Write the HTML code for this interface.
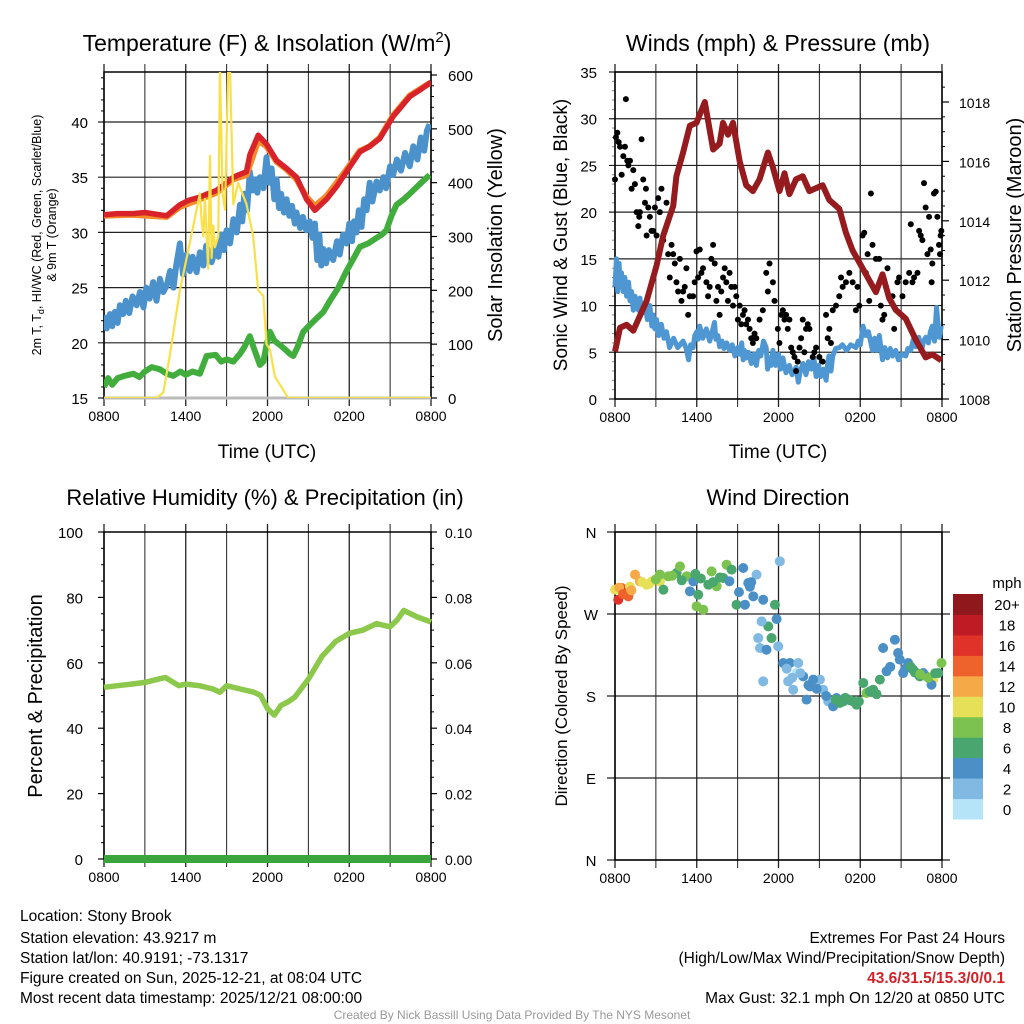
<!DOCTYPE html>
<html><head><meta charset="utf-8"><style>
body{margin:0;background:#fff}
svg{display:block;font-family:"Liberation Sans",sans-serif}
</style></head><body>
<svg id="s" width="1024" height="1024" viewBox="0 0 1024 1024" xmlns="http://www.w3.org/2000/svg"></svg>
<script>
// ---- Temperature panel data (hours since 0800 UTC) ----
const tempT=[0,1,2.15,3,4.6,5.57,6.2,7.04,7.6,8.26,9.0,9.49,10.46,10.7,11.32,11.93,12.67,13.4,14.13,14.87,15.48,16.33,17.1,17.8,18.78,19.5,20.24,21.22,22.44,23.3,24];
const tempV=[31.6,31.7,31.7,31.8,31.5,32.5,32.9,33.2,33.5,33.8,34.5,35.0,35.5,37.0,38.8,38.0,36.5,35.8,35.0,33.0,32.0,33.0,34.2,35.5,37.3,37.8,38.5,40.5,42.3,43.0,43.6];
const nineT=[0,2,4.6,5.57,7.04,8.26,9.49,10.46,11.32,11.93,12.67,13.4,14.13,14.87,15.48,16.33,17.8,18.78,19.5,20.24,21.22,22.44,24];
const nineV=[31.5,31.6,31.4,32.3,33.0,33.6,34.8,35.2,38.3,37.8,36.4,35.7,34.8,33.2,32.4,33.3,35.7,37.4,37.8,38.6,40.6,42.4,43.6];
const dewT=[0,0.2,0.44,0.6,0.8,1.0,1.17,1.4,1.6,1.85,2.1,2.4,2.64,2.9,3.1,3.35,3.6,3.85,4.1,4.35,4.6,4.85,5.1,5.3,5.57,5.8,6.06,6.3,6.5,6.8,7.04,7.3,7.5,7.9,8.26,8.4,8.6,8.8,9.0,9.25,9.5,9.75,9.98,10.15,10.3,10.5,10.7,10.9,11.1,11.25,11.44,11.7,11.93,12.1,12.3,12.5,12.67,12.85,13.0,13.2,13.4,13.6,13.8,14.0,14.13,14.4,14.6,14.85,15.1,15.3,15.48,15.65,15.8,15.95,16.09,16.3,16.5,16.82,17.1,17.3,17.55,17.8,18.0,18.2,18.35,18.53,18.7,18.9,19.1,19.27,19.5,19.7,20.0,20.24,20.5,20.7,21.0,21.22,21.5,21.8,22.1,22.44,22.7,23.0,23.25,23.5,23.7,23.9];
const dewV=[22.5,21.3,22.6,21.5,22.8,21.8,23.4,22.6,23.8,22.7,24.2,23.4,24.6,23.2,25.0,24.0,25.5,23.8,25.8,24.6,25.2,26.5,25.0,27.0,29.0,26.2,28.0,26.5,27.8,26.4,28.2,27.0,28.8,27.3,28.8,27.8,29.8,28.4,30.2,29.0,31.2,30.0,32.5,31.0,33.5,32.0,35.5,33.8,34.8,33.6,35.0,34.0,36.8,34.5,35.8,33.0,34.8,32.2,33.5,31.8,33.0,31.5,32.4,30.8,31.8,30.4,31.4,30.2,31.0,29.5,30.8,27.5,29.8,27.0,28.5,27.2,28.4,27.5,29.2,28.0,29.8,29.0,30.8,29.2,31.0,30.0,32.0,30.5,33.0,32.0,34.5,32.8,34.6,33.8,35.0,34.0,36.0,35.2,36.6,35.6,37.2,36.0,37.8,36.6,38.6,37.4,39.2,39.8];
const greenT=[0,0.3,0.6,1,1.5,2.15,2.6,3,3.5,4.1,4.6,5.09,5.6,6,6.5,7.04,7.53,8.2,8.6,9.0,9.5,9.98,10.3,10.7,11.0,11.44,11.7,11.93,12.18,12.5,12.91,13.3,13.64,13.89,14.2,14.62,15.1,15.6,16.1,16.58,17.2,17.8,18.3,18.78,19.4,20,20.4,20.73,21.1,21.47,22.0,22.44,23.2,23.9];
const greenV=[16.0,16.8,16.2,16.8,17.0,17.2,16.9,17.4,17.8,17.6,17.2,17.0,17.4,17.1,17.4,17.2,18.8,18.9,18.3,18.5,18.3,19.0,19.6,20.6,19.5,18.0,18.3,19.8,21.0,20.2,19.8,19.4,19.0,18.8,19.6,21.0,21.6,22.2,22.8,23.8,25.0,26.5,27.6,28.7,29.0,29.5,29.8,30.2,31.5,32.5,33.0,33.5,34.4,35.2];
const solarT=[0,3.86,4.35,4.84,5.57,6.31,6.8,7.04,7.16,7.29,7.41,7.53,7.65,7.78,7.9,8.02,8.14,8.39,8.51,8.7,8.88,9.12,9.24,9.49,9.85,10.46,10.95,11.32,11.69,11.93,12.18,12.54,13.03,13.52,24];
const solarV=[0,0,10,80,200,290,350,380,330,300,370,300,240,450,260,320,280,300,620,380,350,620,620,360,400,360,300,200,190,100,90,40,20,0,0];
const tempTicks=[15,20,25,30,35,40];
const solarTicks=[0,100,200,300,400,500,600];
const timeLabels=["0800","1400","2000","0200","0800"];

// ---- Winds panel ----
const presT=[0,0.37,0.85,1.34,1.83,2.32,3.05,3.54,4.27,4.51,5.0,5.49,5.98,6.59,7.2,7.68,7.93,8.29,8.66,9.15,9.63,10.12,10.61,11.22,11.59,12.07,12.44,12.8,13.29,13.78,14.27,15.24,15.73,16.46,16.95,17.44,17.93,18.66,19.15,19.63,20.12,20.61,21.34,22.07,22.8,23.29,23.95];
const presV=[1009.6,1010.4,1010.5,1010.3,1010.8,1011.3,1012.5,1013.5,1014.5,1015.5,1016.3,1017.2,1017.3,1018.0,1016.4,1016.6,1017.3,1016.9,1017.3,1016.0,1015.2,1015.0,1015.4,1016.3,1015.8,1015.0,1015.6,1014.9,1015.4,1015.5,1015.0,1015.2,1014.7,1014.4,1013.6,1013.0,1012.6,1012.0,1011.6,1012.2,1011.4,1011.0,1010.7,1010.0,1009.4,1009.5,1009.3];
const windT=[0,0.1,0.2,0.3,0.37,0.48,0.6,0.72,0.85,1.0,1.1,1.22,1.34,1.47,1.6,1.72,1.83,2.0,2.2,2.38,2.56,2.7,2.8,2.93,3.05,3.2,3.4,3.6,3.78,4.0,4.3,4.6,5.0,5.2,5.4,5.55,5.73,5.86,6.0,6.1,6.22,6.45,6.7,6.95,7.2,7.3,7.4,7.55,7.68,7.85,8.0,8.2,8.41,8.6,8.8,9.0,9.15,9.3,9.4,9.5,9.63,9.8,10.0,10.2,10.37,10.55,10.7,10.9,11.1,11.2,11.3,11.45,11.59,11.8,12.0,12.15,12.32,12.55,12.8,13.0,13.29,13.45,13.6,13.8,14.02,14.2,14.4,14.6,14.76,14.95,15.1,15.3,15.49,15.6,15.7,15.85,15.98,16.2,16.46,16.7,17.0,17.3,17.68,17.85,18.0,18.2,18.41,18.6,18.9,19.05,19.2,19.4,19.63,19.8,20.0,20.2,20.37,20.6,20.8,21.05,21.34,21.5,21.7,21.9,22.07,22.3,22.5,22.65,22.8,23.0,23.15,23.29,23.45,23.6,23.8,23.95];
const windV=[12,15,11.5,14.5,12,13.5,11.5,13,11,12.5,10.5,11.5,9.5,11,10.2,9.5,10.8,9.2,10.2,8.5,10,7.8,9,7.5,8.5,6.8,8,6.5,7.2,5.5,6.5,5.5,6.2,5.5,4.2,5.8,5.5,6.8,7.2,6.4,7.8,6.5,7.5,6.2,7.6,8.2,6.4,6.8,5.6,6.2,5.4,6,5.2,5.8,4.6,5.5,4.8,6,4.2,5.2,4.4,5,3.8,4.8,3.6,5.2,4.6,6.2,5.5,3.2,4.4,3.6,5.2,3.6,4.8,3.2,4.4,2.8,3.6,2.6,3.4,1.8,3,3.8,2.6,4,3.2,4.4,2.4,3.6,2.4,3.2,2,3.6,4.6,3,4.6,5.4,5.5,5.8,5.2,5.8,5.5,6.2,5.8,7.8,6.8,7.2,5.2,6.5,5.2,6.8,4.2,5.5,4.4,5.4,4.6,5.2,4.2,4.8,4.6,5.4,5.2,6.4,5.6,6.6,5.2,6.2,6.6,6,7.2,7.8,6.2,9.8,6.6,7.8,6.4,7.2];
const gustT=[0,.07,.17,.27,.37,.49,.61,.73,.8,.9,.98,1.1,1.22,1.34,1.46,1.59,1.71,1.78,1.83,1.95,2.07,2.2,2.27,2.32,2.44,2.56,2.68,2.8,2.93,3.05,3.17,3.29,3.41,3.54,3.66,3.78,3.9,4.02,4.15,4.27,4.39,4.51,4.63,4.76,4.88,5,5.12,5.24,5.37,5.49,5.73,5.85,5.98,6.1,6.22,6.34,6.46,6.71,6.83,6.95,7.07,7.2,7.32,7.44,7.56,7.68,7.8,7.93,8.05,8.17,8.29,8.41,8.54,8.66,8.78,8.9,9.02,9.15,9.27,9.39,9.51,9.63,9.76,9.88,10,10.12,10.24,10.37,10.61,10.85,11.1,11.22,11.34,11.59,11.71,11.95,12.07,12.2,12.32,12.44,12.56,12.68,12.8,12.93,13.05,13.17,13.29,13.41,13.54,13.66,13.78,13.9,14.02,14.15,14.27,14.51,14.63,14.76,15,15.24,15.49,15.61,15.73,15.85,15.98,16.22,16.46,16.59,16.71,16.95,17.2,17.44,17.68,17.8,17.93,18.17,18.29,18.41,18.54,18.66,18.78,18.9,19.15,19.39,19.51,19.63,19.76,19.88,20,20.12,20.37,20.49,20.73,20.85,21.1,21.34,21.59,21.71,21.83,21.95,22.2,22.32,22.44,22.56,22.68,22.8,22.93,23.05,23.17,23.24,23.29,23.41,23.54,23.66,23.78,23.85,23.9,23.95];
const gustV=[23.5,28,28.5,27.5,27,24,26,27,32.1,25.5,25,25.5,22.5,24.5,23,20,18.5,19.5,20,27.8,23.5,21,22.5,17.5,20.5,19.5,18,18,20.5,17.5,21.5,20,22.5,17,18,21,15.5,13,16.5,15.5,14.5,12.5,11.5,15,10.5,11.5,12,14,9,11,11,12.5,15.8,13,16,13.5,14,12.5,11,12,15,16.5,14.5,10.5,12,9,11.5,13,14,12.5,10.5,13.5,12,10,12,11,8.5,10,8,9,9.5,8,8.5,7.5,6.5,6,7,6.5,8.5,9.5,13.5,11.5,14.5,12.5,10.5,7.5,6,9,9.5,8.5,9,7.5,8.5,5.5,5,4.5,3,4,5.5,6.5,8.5,5,7.5,8,7.5,4.5,5,5.5,4.5,4,9,6.5,7.5,6,9.5,10,11,13,12,12.5,13.5,12.5,9.5,12,10,17.5,17.8,13.5,15.5,10.5,22,16.5,15,15,10,8.5,9,12,14,11,11,7.5,12.5,13,11,12.5,13.5,18.7,12.5,13,13.5,18,17.5,17,23.1,20.5,15.5,19.5,16,12.5,14.5,22,22.2,19.5,16.5,15.5,17.5,18];
const windTicks=[0,5,10,15,20,25,30,35];
const presTicks=[1008,1010,1012,1014,1016,1018];

// ---- RH panel ----
const rhT=[0,1,2,3,4,4.5,5.5,6,7,8,8.5,9,10,11,11.5,12,12.5,13,13.5,14,15,16,17,18,19,20,21,21.5,22,23,24];
const rhV=[52.5,53,53.5,54,55,55.5,53,53.5,53,52,51,53,52,51,50,46,44,47,48,49.5,55,62,66.5,69,70,72,71,73,76,74,72.5];
const precipT=[0,24];
const precipV=[0,0];
const rhTicks=[0,20,40,60,80,100];
const precipTicks=["0.00","0.02","0.04","0.06","0.08","0.10"];

// ---- Wind direction panel ----
const dirT=[0,.24,.49,.73,.98,1.47,1.83,2.32,2.69,3.3,3.3,3.55,3.91,4.52,4.77,5.26,5.5,5.75,5.99,6.48,6.11,6.85,7.09,7.46,7.95,8.19,8.56,8.92,9.41,9.54,9.78,10.15,10.39,10.88,11.74,11.86,11.25,10.76,11.49,10.51,10.64,11.12,10.88,11.98,12.35,12.84,13.45,13.33,13.81,12.71,13.08,14.3,14.06,15.04,15.28,15.65,16.01,16.26,16.75,17.11,17.48,17.73,18.22,18.46,18.95,19.44,19.68,19.93,20.54,20.78,21.15,21.52,21.88,22.37,22.86,23.35,23.72,23.96,12.1,23.23,22.62,22.13,16.5,14.55,0.3,0.6,1.1,1.2,2.0,2.5,3.0,4.2,4.9,5.9,6.3,7.2,7.7,8.4,9.1,9.9,10.0,12.6,13.0,13.6,14.2,14.8,15.5,16.2,16.9,17.3,17.9,18.7,19.2,20.2,20.9,21.3,21.7,22.0,22.4,23.0,23.5];
const dirV=[296.7,285.7,298.5,294.9,289.4,313.2,305.8,302.2,305.8,305.8,313.2,296.7,311.4,315,322.3,311.4,294.9,305.8,278.4,274.7,291.2,302.2,316.8,300.4,309.5,324.1,318.7,280.2,320.5,280.2,304,289.4,313.2,285.7,280.2,264.5,256.4,261.9,243.6,243.6,232.7,230.8,196.1,234.5,216.2,216.2,216.2,205.2,201.6,196.1,186.9,190.6,176,198,186.9,174.1,168.6,177.8,174.1,176,174.1,170.5,194.3,183.3,186.9,198,232.7,207.1,241.8,227.2,205.2,216.2,208.9,201.6,201.6,198,205.2,216.2,327.8,192.4,205.2,205.2,172.3,198,299,292,300,296,305,303,308,312,307,314,309,305,310,306,294,300,305,210,200,205,192,188,180,176,178,175,174,185,182,212,220,210,212,206,204,200,205];
const dirSpd=[10,16,14,16,14,12,12,10,10,10,8,6,8,6,8,8,4,4,8,8,6,6,8,8,6,8,6,6,4,4,4,4,2,4,6,4,6,2,6,2,2,4,2,2,4,4,2,0,4,2,2,4,4,2,2,2,4,4,6,4,6,6,6,8,6,6,4,4,4,4,4,4,6,6,8,10,6,8,2,4,4,4,6,4,12,14,10,12,10,10,8,8,6,6,6,6,6,4,4,4,4,2,2,2,4,4,4,6,6,6,6,6,6,4,4,4,6,6,8,8,6];
const speedBins=["0","2","4","6","8","10","12","14","16","18","20+"];
const binColors=["#b5e3f7","#80bae3","#4a8fc6","#48a66e","#7cc24f","#e6e059","#f5aa47","#ee622c","#df3228","#bd1c24","#8f181c"];
const dirLabels=["N","E","S","W","N"];

const S=document.getElementById('s');
const NS="http://www.w3.org/2000/svg";
function el(tag,attrs,parent){const e=document.createElementNS(NS,tag);for(const k in attrs)e.setAttribute(k,attrs[k]);(parent||S).appendChild(e);return e;}
function txt(x,y,s,size,anchor,parent,extra){const e=el('text',Object.assign({x:x,y:y,'font-size':size,'text-anchor':anchor||'middle',fill:'#000'},extra||{}),parent);e.textContent=s;return e;}
function lin(d0,d1,r0,r1){return v=>r0+(v-d0)*(r1-r0)/(d1-d0);}
function pathD(xs,ys,fx,fy){return xs.map((t,i)=>(i?'L':'M')+fx(t).toFixed(1)+','+fy(ys[i]).toFixed(1)).join('');}

function frame(g,x0,x1,y0,y1){
  for(let h=0;h<=24;h+=3){const x=x0+(x1-x0)*h/24;el('line',{x1:x,x2:x,y1:y0-8,y2:y1+8,stroke:'#222','stroke-width':h%6===0?1.3:1},g);}
  el('rect',{x:x0,y:y0,width:x1-x0,height:y1-y0,fill:'none',stroke:'#000','stroke-width':1.5},g);
  timeLabels.forEach((s,i)=>txt(x0+(x1-x0)*i/4,y1+23,s,14,'middle',g));
}

// ============ Panel 1: temperature ============
{
const g=el('g',{});


const x0=104,x1=431,y0=72,y1=398;
const fx=lin(0,24,x0,x1), fy=lin(15,40,398,122), fs=lin(0,600,398,75);
const cp=el('clipPath',{id:'c1'},g);el('rect',{x:x0,y:y0,width:x1-x0,height:y1-y0},cp);
tempTicks.forEach(v=>{el('line',{x1:x0-6,x2:x1,y1:fy(v),y2:fy(v),stroke:'#222','stroke-width':1.2},g);txt(x0-16,fy(v)+6,String(v),15,'end',g);});
for(let v=16;v<45;v++){if(v%5)el('line',{x1:x0-3,x2:x0,y1:fy(v),y2:fy(v),stroke:'#000'},g);}
solarTicks.forEach(v=>{el('line',{x1:x1,x2:x1+6,y1:fs(v),y2:fs(v),stroke:'#000','stroke-width':1.2},g);txt(x1+17,fs(v)+6,String(v),15,'start',g);});
for(let v=20;v<600;v+=20){if(v%100)el('line',{x1:x1,x2:x1+3,y1:fs(v),y2:fs(v),stroke:'#000'},g);}
frame(g,x0,x1,y0,y1);
el('line',{x1:x0,x2:x1,y1:y1,y2:y1,stroke:'#bbb','stroke-width':3},g);
const c=el('g',{'clip-path':'url(#c1)'},g);
const p1=el('path',{d:pathD(greenT,greenV,fx,fy),fill:'none',stroke:'#41ad3d','stroke-width':6,'stroke-linejoin':'round'},c);

const p2=el('path',{d:pathD(dewT,dewV,fx,fy),fill:'none',stroke:'#4b92cc','stroke-width':6,'stroke-linejoin':'round'},c);

const p3=el('path',{d:pathD(nineT,nineV,fx,fy),fill:'none',stroke:'#f58a2a','stroke-width':6,'stroke-linejoin':'round'},c);

const p4=el('path',{d:pathD(tempT,tempV,fx,fy),fill:'none',stroke:'#d8232a','stroke-width':5.5,'stroke-linejoin':'round'},c);

const p5=el('path',{d:pathD(solarT,solarV,fx,fs),fill:'none',stroke:'#f9e04b','stroke-width':2.2,'stroke-linejoin':'round'},c);

const t=txt(267,51,'',23,'middle',g);t.innerHTML='Temperature (F) &amp; Insolation (W/m<tspan dy="-9" font-size="15">2</tspan><tspan dy="9">)</tspan>';

const a=txt(267,458,'Time (UTC)',19,'middle',g);
const yl=el('text',{transform:'translate(41,235) rotate(-90)','font-size':12.5,'text-anchor':'middle'},g);yl.innerHTML='2m T, T<tspan dy="3" font-size="9">d</tspan><tspan dy="-3">, HI/WC (Red, Green, Scarlet/Blue)</tspan>';

const yl2=el('text',{transform:'translate(56,235) rotate(-90)','font-size':12.5,'text-anchor':'middle'},g);yl2.textContent='& 9m T (Orange)';
const yr=el('text',{transform:'translate(502,235) rotate(-90)','font-size':20,'text-anchor':'middle'},g);yr.textContent='Solar Insolation (Yellow)';

}

// ============ Panel 2: winds ============
{
const g=el('g',{});


const x0=615,x1=942,y0=72,y1=399;
const fx=lin(0,24,x0,x1), fy=lin(0,35,399,72), fp=lin(1008,1018,399,102);
windTicks.forEach(v=>{el('line',{x1:x0-6,x2:x1,y1:fy(v),y2:fy(v),stroke:'#222','stroke-width':1.2},g);txt(x0-18,fy(v)+6,String(v),15,'end',g);});
for(let v=1;v<35;v++){if(v%5)el('line',{x1:x0-3,x2:x0,y1:fy(v),y2:fy(v),stroke:'#888'},g);}
presTicks.forEach(v=>{el('line',{x1:x1,x2:x1+7,y1:fp(v),y2:fp(v),stroke:'#000','stroke-width':1.2},g);txt(x1+17,fp(v)+6,String(v),14,'start',g);});
for(let v=1008.5;v<1019;v+=0.5){if(v%2)el('line',{x1:x1,x2:x1+3,y1:fp(v),y2:fp(v),stroke:'#000'},g);}
frame(g,x0,x1,y0,y1);
const w=el('path',{d:pathD(windT,windV,fx,fy),fill:'none',stroke:'#4f97d2','stroke-width':5,'stroke-linejoin':'round'},g);

gustT.forEach((t,i)=>{const d=el('circle',{cx:fx(t),cy:fy(gustV[i]),r:3,fill:'#000'},g);

});
const p=el('path',{d:pathD(presT,presV,fx,fp),fill:'none',stroke:'#951b1e','stroke-width':6,'stroke-linejoin':'round'},g);

const t=txt(778,51,'Winds (mph) & Pressure (mb)',23,'middle',g);
txt(778,458,'Time (UTC)',19,'middle',g);
const yl=el('text',{transform:'translate(567,235) rotate(-90)','font-size':19,'text-anchor':'middle'},g);yl.textContent='Sonic Wind & Gust (Blue, Black)';

const yr=el('text',{transform:'translate(1021,235) rotate(-90)','font-size':20,'text-anchor':'middle'},g);yr.textContent='Station Pressure (Maroon)';

}

// ============ Panel 3: RH ============
{
const g=el('g',{});


const x0=104,x1=431,y0=532,y1=859;
const fx=lin(0,24,x0,x1), fy=lin(0,100,859,532), fq=lin(0,0.1,859,532);
rhTicks.forEach((v,i)=>{el('line',{x1:x0-6,x2:x0,y1:fy(v),y2:fy(v),stroke:'#000','stroke-width':1.2},g);txt(x0-21,fy(v)+6,String(v),15,'end',g);
txt(x1+14,fy(v)+6,precipTicks[i],14,'start',g);el('line',{x1:x1,x2:x1+6,y1:fy(v),y2:fy(v),stroke:'#000','stroke-width':1.2},g);});
for(let v=5;v<100;v+=5){if(v%20){el('line',{x1:x0-3,x2:x0,y1:fy(v),y2:fy(v),stroke:'#000'},g);el('line',{x1:x1,x2:x1+3,y1:fy(v),y2:fy(v),stroke:'#000'},g);}}
frame(g,x0,x1,y0,y1);
const r=el('path',{d:pathD(rhT,rhV,fx,fy),fill:'none',stroke:'#8cc84b','stroke-width':5.5,'stroke-linejoin':'round'},g);

const q=el('path',{d:pathD(precipT,precipV,fx,fq),fill:'none',stroke:'#3aa53c','stroke-width':8},g);

const t=txt(265,505,'Relative Humidity (%) & Precipitation (in)',22,'middle',g);
const yl=el('text',{transform:'translate(42,696) rotate(-90)','font-size':20,'text-anchor':'middle'},g);yl.textContent='Percent & Precipitation';

}

// ============ Panel 4: wind direction ============
{
const g=el('g',{});


const x0=615,x1=942,y0=532,y1=860;
const fx=lin(0,24,x0,x1), fy=lin(0,360,860,532);
dirLabels.forEach((s,i)=>{const v=i*90;el('line',{x1:x0-8,x2:x1+8,y1:fy(v),y2:fy(v),stroke:'#222','stroke-width':1.2},g);txt(x0-24,fy(v)+6,s,15,'middle',g);});
frame(g,x0,x1,y0,y1);
dirT.forEach((t,i)=>{const b=Math.min(10,Math.floor(dirSpd[i]/2));const d=el('circle',{cx:fx(t),cy:fy(dirV[i]),r:5,fill:binColors[b]},g);

});
const t=txt(778,505,'Wind Direction',22,'middle',g);
const yl=el('text',{transform:'translate(567,696) rotate(-90)','font-size':17,'text-anchor':'middle'},g);yl.textContent='Direction (Colored By Speed)';

const lg=el('g',{},g);


txt(1007,588,'mph',15,'middle',lg);
const bh=(819-594)/11;
speedBins.forEach((s,i)=>{const y=819-(i+1)*bh;el('rect',{x:953,y:y,width:30,height:bh+0.5,fill:binColors[i]},lg);txt(1007,y+bh/2+6,s,15,'middle',lg);});
}

// ============ Footer ============
{
const g=el('g',{});


const L=["Location: Stony Brook","Station elevation: 43.9217 m","Station lat/lon: 40.9191; -73.1317","Figure created on Sun, 2025-12-21, at 08:04 UTC","Most recent data timestamp: 2025/12/21 08:00:00"];
const Ly=[921,943,963,983,1003];
L.forEach((s,i)=>txt(20,Ly[i],s,15.5,'start',g));
txt(1005,943,'Extremes For Past 24 Hours',15.5,'end',g);
txt(1005,963,'(High/Low/Max Wind/Precipitation/Snow Depth)',15.5,'end',g);
txt(1005,983,'43.6/31.5/15.3/0/0.1',15.5,'end',g,{fill:'#d0232a','font-weight':'bold'});
txt(1005,1003,'Max Gust: 32.1 mph On 12/20 at 0850 UTC',15.5,'end',g);
txt(512,1019,'Created By Nick Bassill Using Data Provided By The NYS Mesonet',12,'middle',g,{fill:'#999'});
}
</script>
</body></html>
